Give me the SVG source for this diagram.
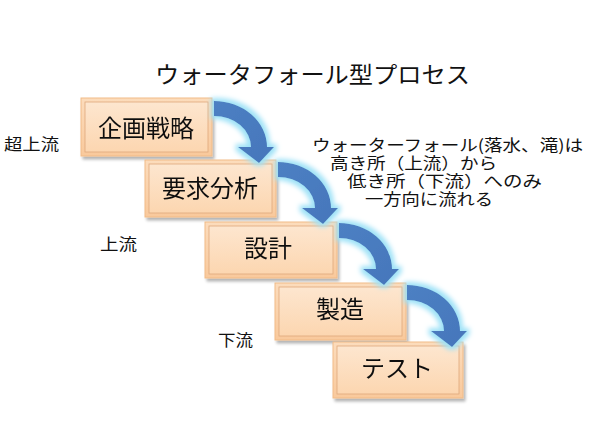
<svg xmlns="http://www.w3.org/2000/svg" width="590" height="442" viewBox="0 0 590 442">
<defs>
<linearGradient id="boxOuter" x1="0" y1="0" x2="0" y2="1">
<stop offset="0" stop-color="#fcdcbc"/>
<stop offset="1" stop-color="#f9c99c"/>
</linearGradient>
<linearGradient id="boxInner" x1="0" y1="0" x2="0" y2="1">
<stop offset="0" stop-color="#fde6cf"/>
<stop offset="1" stop-color="#fcd6b0"/>
</linearGradient>
<linearGradient id="arrowFill" x1="0" y1="0" x2="1" y2="1">
<stop offset="0" stop-color="#4d80c3"/>
<stop offset="1" stop-color="#4576bb"/>
</linearGradient>
<filter id="shadow" x="-10%" y="-10%" width="125%" height="135%">
<feGaussianBlur in="SourceAlpha" stdDeviation="1.5" result="b"/>
<feOffset in="b" dx="1.5" dy="2.5" result="o"/>
<feComponentTransfer in="o" result="s"><feFuncA type="linear" slope="0.3"/></feComponentTransfer>
<feMerge><feMergeNode in="s"/><feMergeNode in="SourceGraphic"/></feMerge>
</filter>
<filter id="glow" x="-40%" y="-40%" width="180%" height="180%">
<feMorphology in="SourceAlpha" operator="dilate" radius="2.5" result="d"/>
<feGaussianBlur in="d" stdDeviation="2.5" result="b"/>
<feFlood flood-color="#9fe2f7"/>
<feComposite in2="b" operator="in" result="g"/>
<feMerge><feMergeNode in="g"/><feMergeNode in="SourceGraphic"/></feMerge>
</filter>
<path id="curvedArrow" d="M0,0 A53,46 0 0 1 53,46 L60,46 L45,62 L24,46 L37,46 A37,31 0 0 0 0,15 Z"/>
</defs>
<style>
text { font-family: "Noto Sans CJK JP", "Noto Sans", sans-serif; fill: #111; }
.outer { fill: url(#boxOuter); stroke: #f1bb87; stroke-width: 1; }
.inner { fill: url(#boxInner); stroke: #dfa97c; stroke-width: 0.8; }
.box { filter: url(#shadow); }
.lbl { font-size: 24px; text-anchor: middle; }
.side { font-size: 16px; }
.note { font-size: 16px; }
.arrow { fill: url(#arrowFill); filter: url(#glow); }
</style>
<rect width="590" height="442" fill="#ffffff"/>

<text id="title" x="155" y="83" font-size="23" textLength="315" lengthAdjust="spacingAndGlyphs">ウォータフォール型プロセス</text>

<g id="labels">
<text class="side" x="4" y="150" textLength="55" lengthAdjust="spacingAndGlyphs">超上流</text>
<text class="side" x="100" y="250" textLength="37" lengthAdjust="spacingAndGlyphs">上流</text>
<text class="side" x="218" y="346" textLength="35" lengthAdjust="spacingAndGlyphs">下流</text>
</g>

<g id="note">
<text class="note" x="312" y="151" textLength="271" lengthAdjust="spacingAndGlyphs">ウォーターフォール(落水、滝)は</text>
<text class="note" x="330" y="169" textLength="167" lengthAdjust="spacingAndGlyphs">高き所（上流）から</text>
<text class="note" x="347" y="187" textLength="195" lengthAdjust="spacingAndGlyphs">低き所（下流）へのみ</text>
<text class="note" x="365" y="205" textLength="128" lengthAdjust="spacingAndGlyphs">一方向に流れる</text>
</g>

<g id="node-kikaku" class="box">
<rect class="outer" x="81" y="98" width="131" height="58"/>
<rect class="inner" x="85" y="102" width="123" height="50"/>
<text class="lbl" x="146" y="137">企画戦略</text>
</g>
<g id="node-youkyu" class="box">
<rect class="outer" x="145" y="160" width="131" height="57"/>
<rect class="inner" x="149" y="164" width="123" height="49"/>
<text class="lbl" x="210" y="197">要求分析</text>
</g>
<g id="node-sekkei" class="box">
<rect class="outer" x="205" y="222" width="132" height="56"/>
<rect class="inner" x="209" y="226" width="124" height="48"/>
<text class="lbl" x="268" y="257">設計</text>
</g>
<g id="node-seizou" class="box">
<rect class="outer" x="275" y="283" width="131" height="57"/>
<rect class="inner" x="279" y="287" width="123" height="49"/>
<text class="lbl" x="340" y="318">製造</text>
</g>
<g id="node-test" class="box">
<rect class="outer" x="333" y="342" width="130" height="56"/>
<rect class="inner" x="337" y="346" width="122" height="48"/>
<text class="lbl" x="397" y="377">テスト</text>
</g>

<g id="connectors">
<use href="#curvedArrow" class="arrow" x="214" y="101"/>
<use href="#curvedArrow" class="arrow" x="278" y="162"/>
<use href="#curvedArrow" class="arrow" x="339" y="223"/>
<use href="#curvedArrow" class="arrow" x="407" y="285"/>
</g>
</svg>
